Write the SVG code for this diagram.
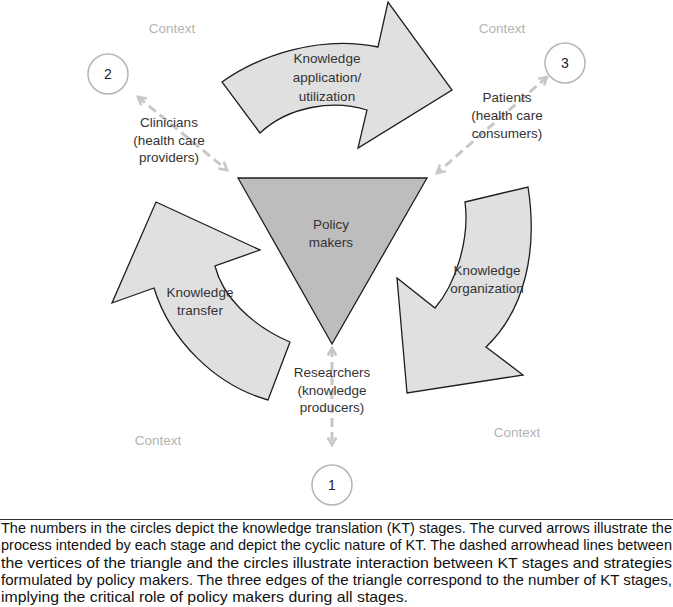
<svg xmlns="http://www.w3.org/2000/svg" width="673" height="607" viewBox="0 0 673 607">
<style>
.arrow{fill:#e0e0e0;stroke:#1e1e1e;stroke-width:1.3;stroke-linejoin:miter}
.tri{fill:#bdbdbd;stroke:#1e1e1e;stroke-width:1.3}
.circ{fill:#fff;stroke:#b5b5b5;stroke-width:1.5}
.lbl{font-family:"Liberation Sans",Arial,sans-serif;font-size:13.5px;fill:#333;text-anchor:middle}
.ctx{font-family:"Liberation Sans",Arial,sans-serif;font-size:13.5px;fill:#b3b3b3;text-anchor:middle}
.num{font-family:"Liberation Sans",Arial,sans-serif;font-size:14px;fill:#222;text-anchor:middle}
.dash{fill:none;stroke:#c8c8c8;stroke-width:3;stroke-dasharray:9 5;marker-start:url(#chev);marker-end:url(#chev)}
.cap{font-family:"Liberation Sans",Arial,sans-serif;font-size:14.5px;fill:#111}
</style>
<defs>
<marker id="chev" viewBox="0 0 10 10" refX="8" refY="5" markerWidth="11" markerHeight="11" markerUnits="userSpaceOnUse" orient="auto-start-reverse">
<path d="M1,1 L8,5 L1,9" fill="none" stroke="#c8c8c8" stroke-width="2.4"/>
</marker>
</defs>
<g id="context-labels">
<text class="ctx" x="172" y="33">Context</text>
<text class="ctx" x="502" y="33">Context</text>
<text class="ctx" x="158" y="445">Context</text>
<text class="ctx" x="517" y="437">Context</text>
</g>
<g id="connectors">
<line class="dash" x1="138" y1="97" x2="227" y2="170"/>
<line class="dash" x1="547" y1="77" x2="437" y2="173"/>
<line class="dash" x1="332" y1="348" x2="332" y2="445"/>
</g>
<g id="arrow-application">
<path class="arrow" d="M260,133 L222,82 C260,55 320,35 378,47 L388,2 L452,90 L358,148 L367,110 C335,100 290,105 260,133 Z"/>
<text class="lbl" x="327" y="63">Knowledge</text>
<text class="lbl" x="327" y="82">application/</text>
<text class="lbl" x="327" y="101">utilization</text>
</g>
<g id="arrow-transfer">
<path class="arrow" d="M156,202 L260,250 L215,266 C222,295 250,325 290,342 L268,400 C215,385 170,340 154,288 L112,303 Z"/>
<text class="lbl" x="200" y="297">Knowledge</text>
<text class="lbl" x="200" y="315">transfer</text>
</g>
<g id="arrow-organization">
<path class="arrow" d="M465,202 L528,187 C538,250 525,310 486,347 L523,375 L407,393 L397,278 L435,308 C455,285 470,240 465,202 Z"/>
<text class="lbl" x="487" y="275">Knowledge</text>
<text class="lbl" x="487" y="293">organization</text>
</g>
<g id="policy-makers">
<path class="tri" d="M238,178 L427,178 L332,344 Z"/>
<text class="lbl" x="331" y="229">Policy</text>
<text class="lbl" x="331" y="247">makers</text>
</g>
<g id="circle-1">
<circle class="circ" cx="332" cy="485" r="20"/>
<text class="num" x="332" y="490">1</text>
</g>
<g id="circle-2">
<circle class="circ" cx="108" cy="74" r="20"/>
<text class="num" x="108" y="79">2</text>
</g>
<g id="circle-3">
<circle class="circ" cx="565" cy="63" r="20"/>
<text class="num" x="565" y="68">3</text>
</g>
<g id="clinicians">
<text class="lbl" x="169" y="127">Clinicians</text>
<text class="lbl" x="169" y="145">(health care</text>
<text class="lbl" x="169" y="162">providers)</text>
</g>
<g id="patients">
<text class="lbl" x="507" y="102">Patients</text>
<text class="lbl" x="507" y="120">(health care</text>
<text class="lbl" x="507" y="138">consumers)</text>
</g>
<g id="researchers">
<text class="lbl" x="332" y="377">Researchers</text>
<text class="lbl" x="332" y="395">(knowledge</text>
<text class="lbl" x="332" y="412">producers)</text>
</g>
<g id="caption">
<line x1="0" y1="519.5" x2="673" y2="519.5" stroke="#333" stroke-width="1"/>
<text class="cap" x="1" y="533" textLength="671" lengthAdjust="spacingAndGlyphs">The numbers in the circles depict the knowledge translation (KT) stages. The curved arrows illustrate the</text>
<text class="cap" x="1" y="550" textLength="671" lengthAdjust="spacingAndGlyphs">process intended by each stage and depict the cyclic nature of KT. The dashed arrowhead lines between</text>
<text class="cap" x="1" y="567.5" textLength="671" lengthAdjust="spacingAndGlyphs">the vertices of the triangle and the circles illustrate interaction between KT stages and strategies</text>
<text class="cap" x="1" y="585" textLength="671" lengthAdjust="spacingAndGlyphs">formulated by policy makers. The three edges of the triangle correspond to the number of KT stages,</text>
<text class="cap" x="1" y="602" textLength="407" lengthAdjust="spacingAndGlyphs">implying the critical role of policy makers during all stages.</text>
</g>
</svg>
